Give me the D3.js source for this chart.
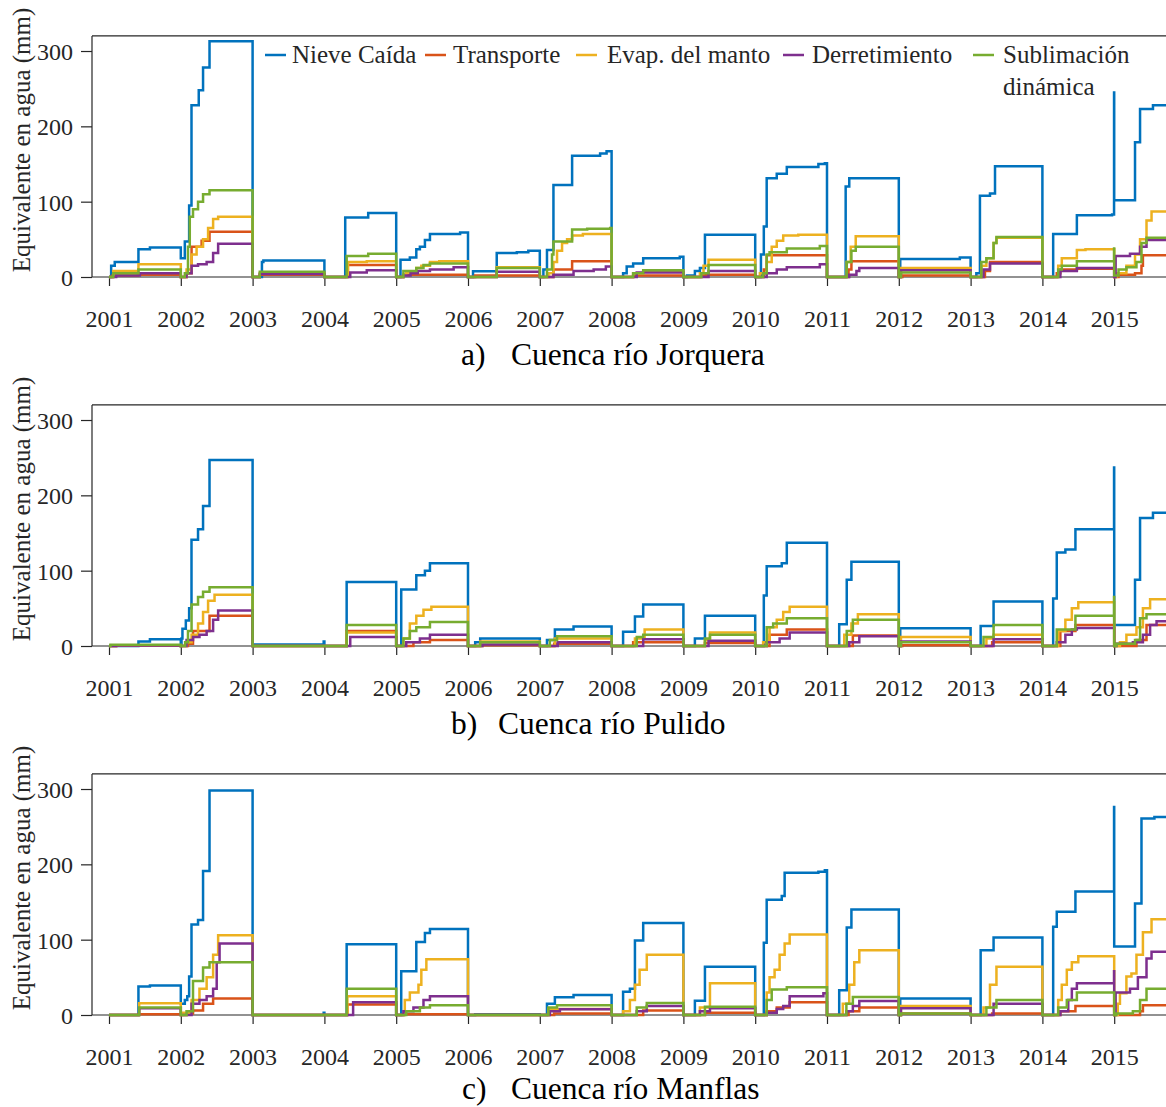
<!DOCTYPE html>
<html>
<head>
<meta charset="utf-8">
<script src="https://cdn.jsdelivr.net/npm/d3@7"></script>
<style>
  html, body { margin: 0; padding: 0; background: #fff; }
  svg { display: block; }
  text { font-family: "Liberation Serif", "Times New Roman", serif; }
</style>
</head>
<body>
<svg id="chart" width="1166" height="1107"></svg>
<script>
// Annual cumulative water balance terms (mm w.e.), one list per year 2001–2015.
// Each year holds [fraction of year, cumulative value] steps; every year restarts at 0.
const years = d3.range(2001, 2016);
const yTicks = [0, 100, 200, 300];
const seriesNames = ["Nieve Caída", "Transporte", "Evap. del manto", "Derretimiento", "Sublimación dinámica"];
const seriesColors = ["#0072BD", "#D95319", "#EDB120", "#7E2F8E", "#77AC30"];

// a) Cuenca río Jorquera
const jorqueraNieve = [
  [[0.03,15],[0.08,20],[0.41,37],[0.57,39]],
  [[0,25],[0.056,47],[0.116,95],[0.149,228],[0.25,248],[0.31,278],[0.40,313]],
  [[0.13,20],[0.15,22]],
  [[0.29,79],[0.61,85]],
  [[0.06,23],[0.19,26],[0.28,37],[0.33,40],[0.40,49],[0.47,57],[0.89,59]],
  [[0.07,7.5],[0.40,32],[0.68,33],[0.84,35]],
  [[0.05,10],[0.10,36],[0.19,122],[0.45,161],[0.84,164],[0.93,167]],
  [[0.16,5],[0.21,14],[0.30,18],[0.44,25],[0.95,27]],
  [[0.05,2],[0.16,8],[0.23,12],[0.30,56]],
  [[0.08,30],[0.12,67],[0.16,131],[0.30,137],[0.44,146],[0.88,150],[0.97,151]],
  [[0.26,120],[0.31,131]],
  [[0.02,24],[0.85,26]],
  [[0.08,5],[0.13,108],[0.27,111],[0.34,147]],
  [[0.15,57],[0.48,82],[0.97,83],[0.998,245]],
  [[0,102],[0.29,179],[0.36,223],[0.54,228]]
];
const jorqueraTransporte = [
  [[0.05,2],[0.4,3]],
  [[0.08,5],[0.15,40],[0.29,48],[0.40,60]],
  [[0.1,3]],
  [[0.32,16]],
  [[0.1,3]],
  [[0.1,2]],
  [[0.19,10],[0.45,21]],
  [[0.3,2]],
  [[0.25,3]],
  [[0.12,10],[0.16,29]],
  [[0.3,10],[0.34,21]],
  [[0.05,2]],
  [[0.2,8],[0.27,20]],
  [[0.2,5],[0.25,10],[0.48,11]],
  [[0.06,3],[0.29,5],[0.38,15],[0.40,29]]
];
const jorqueraEvap = [
  [[0.06,8],[0.41,17]],
  [[0.08,10],[0.15,30],[0.22,40],[0.31,50],[0.38,65],[0.45,77],[0.52,80]],
  [[0.1,5]],
  [[0.33,20],[0.59,21]],
  [[0.1,3],[0.14,6],[0.28,12],[0.35,15],[0.47,20],[0.6,21]],
  [[0.40,13]],
  [[0.12,5],[0.19,20],[0.24,35],[0.31,45],[0.38,50],[0.45,55],[0.6,57]],
  [[0.3,5],[0.44,8]],
  [[0.23,5],[0.28,15],[0.35,23]],
  [[0.065,5],[0.16,20],[0.23,40],[0.30,48],[0.39,55],[0.6,56]],
  [[0.275,20],[0.33,40],[0.40,54]],
  [[0.03,12]],
  [[0.15,15],[0.22,25],[0.32,45],[0.36,52]],
  [[0.22,15],[0.27,25],[0.48,36],[0.6,37]],
  [[0.03,5],[0.17,15],[0.29,30],[0.36,50],[0.45,75],[0.52,87]]
];
const jorqueraDerret = [
  [[0.1,2],[0.43,5]],
  [[0.08,5],[0.15,15],[0.24,17],[0.36,20],[0.45,32],[0.52,44]],
  [[0.1,4]],
  [[0.36,6],[0.59,9]],
  [[0.1,2],[0.2,5],[0.3,8],[0.47,10],[0.8,13]],
  [[0.4,7]],
  [[0.19,3],[0.47,8],[0.75,10],[0.92,14]],
  [[0.35,6]],
  [[0.35,8]],
  [[0.16,5],[0.30,10],[0.44,13],[0.90,17]],
  [[0.31,3],[0.41,8],[0.45,12]],
  [[0.03,9]],
  [[0.18,10],[0.27,18]],
  [[0.25,8],[0.48,12]],
  [[0.02,28],[0.22,31],[0.36,40],[0.45,49]]
];
const jorqueraSublim = [
  [[0.06,5],[0.41,10]],
  [[0.056,5],[0.10,40],[0.125,80],[0.17,90],[0.24,100],[0.31,110],[0.40,115]],
  [[0.1,7]],
  [[0.31,28],[0.61,31]],
  [[0.1,8],[0.28,12],[0.38,16],[0.47,18]],
  [[0.40,12]],
  [[0.1,10],[0.17,30],[0.19,47],[0.45,63],[0.66,64],[0.98,65]],
  [[0.30,5],[0.44,9]],
  [[0.25,5],[0.35,16]],
  [[0.11,5],[0.16,30],[0.20,33],[0.44,38],[0.90,41]],
  [[0.275,20],[0.34,35],[0.40,40]],
  [[0.03,6]],
  [[0.15,20],[0.22,25],[0.32,45],[0.36,53]],
  [[0.22,10],[0.27,15],[0.48,21],[0.998,38]],
  [[0,2],[0.06,10],[0.17,13],[0.31,20],[0.38,45],[0.45,52]]
];

// b) Cuenca río Pulido
const pulidoNieve = [
  [[0.41,6],[0.57,9]],
  [[0.01,10],[0.023,23],[0.07,34],[0.116,50],[0.149,141],[0.24,155],[0.31,186],[0.40,247]],
  [[0.02,2],[0.99,6]],
  [[0.31,85]],
  [[0.07,75],[0.28,94],[0.40,100],[0.47,110]],
  [[0.10,5],[0.17,10]],
  [[0.10,8],[0.21,22],[0.47,26]],
  [[0.16,19],[0.325,39],[0.44,55]],
  [[0.16,10],[0.30,40]],
  [[0.12,67],[0.16,106],[0.37,110],[0.44,137]],
  [[0.17,29],[0.275,88],[0.34,112]],
  [[0.02,23.5]],
  [[0.14,26.5],[0.32,59]],
  [[0.15,63],[0.20,124],[0.32,128],[0.46,155],[0.998,237]],
  [[0,28],[0.29,88],[0.36,170],[0.54,177]]
];
const pulidoTransporte = [
  [[0.1,0.5]],
  [[0.1,3],[0.17,20],[0.40,40]],
  [],
  [[0.31,20]],
  [[0.24,5],[0.47,8]],
  [[0.2,1]],
  [[0.2,3]],
  [[0.3,5]],
  [[0.3,4]],
  [[0.20,15],[0.44,22]],
  [[0.36,14]],
  [[0.05,1]],
  [[0.3,5]],
  [[0.25,20],[0.46,28]],
  [[0.31,8],[0.45,28]]
];
const pulidoEvap = [
  [[0.1,1]],
  [[0.08,5],[0.15,15],[0.24,30],[0.31,45],[0.38,60],[0.47,68]],
  [],
  [[0.31,18]],
  [[0.10,10],[0.19,30],[0.28,40],[0.38,48],[0.49,52]],
  [[0.17,6]],
  [[0.21,10]],
  [[0.325,10],[0.46,22]],
  [[0.3,8],[0.37,18]],
  [[0.11,5],[0.20,25],[0.30,35],[0.39,45],[0.48,52]],
  [[0.24,15],[0.34,30],[0.43,42]],
  [[0.03,12]],
  [[0.22,10],[0.32,15]],
  [[0.22,20],[0.32,35],[0.41,50],[0.50,58]],
  [[0.08,5],[0.17,15],[0.31,25],[0.40,50],[0.50,62]]
];
const pulidoDerret = [
  [[0.1,0.5]],
  [[0.08,8],[0.17,12],[0.26,15],[0.36,20],[0.45,35],[0.52,47]],
  [],
  [[0.36,12]],
  [[0.14,5],[0.33,10],[0.47,15]],
  [[0.2,2]],
  [[0.25,5]],
  [[0.44,9]],
  [[0.35,7]],
  [[0.16,5],[0.34,10],[0.48,18]],
  [[0.31,5],[0.45,13]],
  [[0.03,6]],
  [[0.32,9]],
  [[0.2,5],[0.32,15],[0.41,22],[0.48,24]],
  [[0.03,3],[0.26,5],[0.40,15],[0.50,28],[0.59,33]]
];
const pulidoSublim = [
  [[0.02,1.5]],
  [[0.06,5],[0.1,20],[0.15,55],[0.24,65],[0.31,72],[0.40,78]],
  [],
  [[0.31,28]],
  [[0.10,10],[0.19,20],[0.28,25],[0.47,32]],
  [[0.17,5]],
  [[0.14,8],[0.24,13]],
  [[0.35,12],[0.44,15]],
  [[0.3,10],[0.37,15]],
  [[0.16,25],[0.25,30],[0.44,37]],
  [[0.275,20],[0.36,35]],
  [[0.03,5]],
  [[0.18,12],[0.32,28]],
  [[0.2,22],[0.46,40],[0.998,65]],
  [[0.03,3],[0.29,8],[0.36,37],[0.45,42]]
];

// c) Cuenca río Manflas
const manflasNieve = [
  [[0.41,38],[0.57,39]],
  [[0,15],[0.056,20],[0.09,25],[0.116,51],[0.149,120],[0.24,126],[0.31,191],[0.40,298]],
  [[0.99,3]],
  [[0.31,94]],
  [[0.07,58],[0.28,97],[0.40,109],[0.47,114]],
  [[0.1,1]],
  [[0.10,15],[0.21,23.5],[0.47,26.5]],
  [[0.16,31],[0.255,35],[0.325,99],[0.44,122]],
  [[0.16,19],[0.30,64]],
  [[0.12,96],[0.16,153],[0.37,158],[0.41,189],[0.88,190],[0.97,192]],
  [[0.17,33],[0.275,116],[0.34,140]],
  [[0.02,22]],
  [[0.14,86],[0.32,103]],
  [[0.15,117],[0.20,137],[0.46,164],[0.998,276]],
  [[0,91],[0.29,148],[0.38,261],[0.56,263]]
];
const manflasTransporte = [
  [[0.41,1]],
  [[0.08,2],[0.17,6],[0.31,15],[0.45,22]],
  [],
  [[0.32,14]],
  [[0.1,1]],
  [],
  [[0.2,2]],
  [[0.44,6]],
  [[0.3,3]],
  [[0.16,5],[0.30,10],[0.48,17]],
  [[0.3,5],[0.45,10]],
  [[0.03,2]],
  [[0.3,2]],
  [[0.25,5],[0.46,12]],
  [[0.36,5],[0.40,13]]
];
const manflasEvap = [
  [[0.42,15.5]],
  [[0.03,3],[0.15,20],[0.26,35],[0.36,50],[0.45,80],[0.52,106]],
  [],
  [[0.32,25]],
  [[0.12,20],[0.19,30],[0.31,40],[0.35,60],[0.42,74]],
  [],
  [[0.12,8]],
  [[0.16,5],[0.255,20],[0.325,40],[0.39,60],[0.49,80]],
  [[0.23,10],[0.37,42]],
  [[0.16,30],[0.20,50],[0.27,60],[0.34,80],[0.41,95],[0.48,107]],
  [[0.22,15],[0.31,40],[0.38,70],[0.45,86]],
  [[0.03,12]],
  [[0.18,10],[0.27,40],[0.36,64]],
  [[0.22,20],[0.27,40],[0.34,60],[0.41,70],[0.50,78]],
  [[0.05,15],[0.08,29],[0.17,51],[0.24,55],[0.31,80],[0.40,110],[0.52,127]]
];
const manflasDerret = [
  [[0.42,9]],
  [[0.15,15],[0.26,20],[0.36,25],[0.45,35],[0.50,70],[0.54,95]],
  [],
  [[0.40,17]],
  [[0.10,5],[0.24,10],[0.38,20],[0.47,25]],
  [],
  [[0.14,5],[0.28,7.5]],
  [[0.35,5],[0.49,12]],
  [[0.23,5],[0.37,9]],
  [[0.16,3],[0.30,8],[0.39,12],[0.48,25],[0.95,29]],
  [[0.27,5],[0.36,12],[0.45,18.6]],
  [[0.03,9]],
  [[0.32,15]],
  [[0.25,5],[0.36,20],[0.41,35],[0.48,42],[0.998,58]],
  [[0.02,30],[0.22,35],[0.33,50],[0.45,75],[0.52,84]]
];
const manflasSublim = [
  [[0.42,10]],
  [[0.08,5],[0.17,45],[0.31,63],[0.40,70]],
  [],
  [[0.31,35]],
  [[0.14,5],[0.33,10],[0.47,13]],
  [],
  [[0.12,10],[0.24,13]],
  [[0.35,10],[0.49,16]],
  [[0.3,11]],
  [[0.16,20],[0.23,34],[0.44,37]],
  [[0.27,15],[0.36,24]],
  [[0.03,2]],
  [[0.22,10],[0.36,20]],
  [[0.22,10],[0.34,20],[0.48,30]],
  [[0.03,2],[0.26,5],[0.36,20],[0.45,35]]
];

const panels = [
  { label: "a)", title: "Cuenca río Jorquera", y0: 277, capDy: 88, labelX: 461, titleX: 511,
    series: [jorqueraNieve, jorqueraTransporte, jorqueraEvap, jorqueraDerret, jorqueraSublim], legend: true },
  { label: "b)", title: "Cuenca río Pulido", y0: 646, capDy: 88, labelX: 451, titleX: 498,
    series: [pulidoNieve, pulidoTransporte, pulidoEvap, pulidoDerret, pulidoSublim], legend: false },
  { label: "c)", title: "Cuenca río Manflas", y0: 1015, capDy: 84, labelX: 462, titleX: 511,
    series: [manflasNieve, manflasTransporte, manflasEvap, manflasDerret, manflasSublim], legend: false }
];

const svg = d3.select("#chart");
svg.append("rect").attr("width", 1166).attr("height", 1107).attr("fill", "#fff");

const axisColor = "#262626";
const frameLeft = 92;
const x = d3.scaleLinear().domain([2001, 2015]).range([109, 1114.2]);
const yMax = 320;
const pxPerUnit = 0.7533;

// Turn per-year step lists into one continuous stepped series
function buildSeries(perYear) {
  const pts = [];
  perYear.forEach((steps, i) => {
    const yr = years[i];
    if (!steps.length || steps[0][0] > 0) pts.push([yr, 0]);
    steps.forEach(([t, v]) => pts.push([yr + t, v]));
  });
  const last = pts[pts.length - 1];
  pts.push([2016, last[1]]);
  return pts;
}

panels.forEach(p => {
  const y = d3.scaleLinear().domain([0, yMax]).range([p.y0, p.y0 - yMax * pxPerUnit]);
  const top = y(yMax);
  const g = svg.append("g");

  // frame: top edge
  g.append("line").attr("x1", frameLeft).attr("x2", 1166).attr("y1", top).attr("y2", top)
    .attr("stroke", axisColor).attr("stroke-width", 1.2);

  // y axis
  const yAxis = g.append("g").attr("transform", `translate(${frameLeft},0)`)
    .call(d3.axisLeft(y).tickValues(yTicks).tickSize(11).tickPadding(8).tickSizeOuter(0));
  yAxis.select(".domain").attr("stroke", axisColor).attr("stroke-width", 1.2)
    .attr("d", `M0,${p.y0}V${top}`);
  yAxis.selectAll(".tick line").attr("stroke", axisColor).attr("stroke-width", 1.2);
  yAxis.selectAll(".tick text").attr("font-size", 24).attr("fill", axisColor)
    .attr("dy", "0.36em");

  // x axis
  const xAxis = g.append("g").attr("transform", `translate(0,${p.y0})`)
    .call(d3.axisBottom(x).tickValues(years).tickFormat(d3.format("d")).tickSize(9).tickPadding(24).tickSizeOuter(0));
  xAxis.select(".domain").attr("stroke", axisColor).attr("stroke-width", 1.2)
    .attr("d", `M${frameLeft},0H1166`);
  xAxis.selectAll(".tick line").attr("stroke", axisColor).attr("stroke-width", 1.2);
  xAxis.selectAll(".tick text").attr("font-size", 24).attr("fill", axisColor);

  // y-axis title
  g.append("text")
    .attr("transform", `translate(30,${top + 104}) rotate(-90)`)
    .attr("text-anchor", "middle").attr("font-size", 25).attr("fill", axisColor)
    .text("Equivalente en agua (mm)");

  // series lines, green drawn last
  const line = d3.line().x(d => x(d[0])).y(d => y(d[1])).curve(d3.curveStepAfter);
  p.series.forEach((s, i) => {
    g.append("path").datum(buildSeries(s))
      .attr("d", line).attr("fill", "none")
      .attr("stroke", seriesColors[i]).attr("stroke-width", 2.5)
      .attr("stroke-linejoin", "miter");
  });

  // panel caption
  g.append("text").attr("x", p.labelX).attr("y", p.y0 + p.capDy)
    .attr("font-size", 31.5).attr("fill", "#000").text(p.label);
  g.append("text").attr("x", p.titleX).attr("y", p.y0 + p.capDy)
    .attr("font-size", 31.5).attr("fill", "#000").text(p.title);

  // legend (first panel only)
  if (p.legend) {
    const items = [
      { x: 265, tx: 292 }, { x: 425, tx: 453 }, { x: 576, tx: 607 },
      { x: 783, tx: 812 }, { x: 973, tx: 1003 }
    ];
    const lg = g.append("g");
    items.forEach((it, i) => {
      lg.append("line").attr("x1", it.x).attr("x2", it.x + 21).attr("y1", 55).attr("y2", 55)
        .attr("stroke", seriesColors[i]).attr("stroke-width", 2.5);
      const words = seriesNames[i] === "Sublimación dinámica" ? ["Sublimación", "dinámica"] : [seriesNames[i]];
      const t = lg.append("text").attr("x", it.tx).attr("y", 63)
        .attr("font-size", 25).attr("fill", axisColor);
      words.forEach((w, k) => {
        t.append("tspan").attr("x", it.tx).attr("dy", k === 0 ? 0 : 32).text(w);
      });
    });
  }
});
</script>
</body>
</html>
